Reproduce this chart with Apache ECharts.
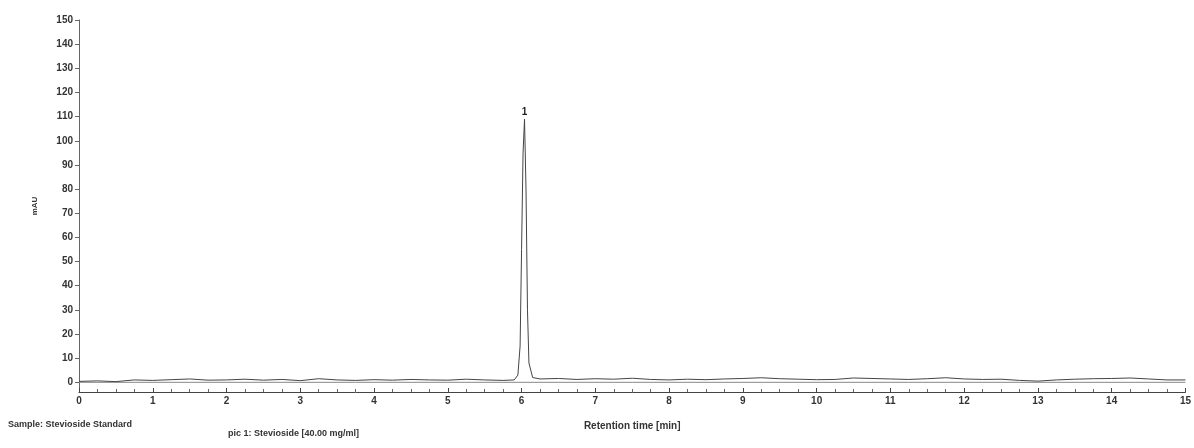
<!DOCTYPE html>
<html>
<head>
<meta charset="utf-8">
<script src="https://cdn.jsdelivr.net/npm/echarts@6/dist/echarts.min.js"></script>
<style>html,body{margin:0;padding:0;background:#fff}#c{width:1194px;height:448px}</style>
</head>
<body>
<div id="c"></div>
<script>
var times = [0,0.25,0.5,0.75,1,1.25,1.5,1.75,2,2.25,2.5,2.75,3,3.25,3.5,3.75,4,4.25,4.5,4.75,5,5.25,5.5,5.75,5.9,5.95,5.98,6.0,6.02,6.04,6.06,6.08,6.1,6.15,6.25,6.5,6.75,7,7.25,7.5,7.75,8,8.25,8.5,8.75,9,9.25,9.5,9.75,10,10.25,10.5,10.75,11,11.25,11.5,11.75,12,12.25,12.5,12.75,13,13.25,13.5,13.75,14,14.25,14.5,14.75,15];
var signal = [0.4,0.6,0.3,1.0,0.8,1.1,1.4,0.9,1.0,1.3,0.9,1.2,0.7,1.5,1.0,0.8,1.1,0.9,1.2,1.0,0.9,1.3,1.0,0.8,1.0,3,15,55,95,109,80,30,8,2.0,1.4,1.6,1.2,1.5,1.3,1.7,1.2,1.0,1.3,1.1,1.4,1.6,1.9,1.5,1.3,1.1,1.2,1.8,1.6,1.4,1.2,1.5,1.9,1.4,1.2,1.3,0.8,0.5,1.0,1.3,1.5,1.6,1.8,1.4,1.0,1.0];
var baseline = [[0,0],[15,0]];
var yTicks = [0,10,20,30,40,50,60,70,80,90,100,110,120,130,140,150];
var peakLabel = {name:'1', time:6.04, value:109};

var chart = echarts.init(document.getElementById('c'), null, {renderer:'canvas'});
var pts = times.map(function(t,i){return [t, signal[i]];});
var font = 'Liberation Sans';
chart.setOption({
  animation:false,
  grid:{left:79, right:5, top:20, bottom:56},
  xAxis:{
    type:'value', min:0, max:15, interval:1,
    axisLine:{show:true, onZero:false, lineStyle:{color:'#444', width:1}},
    axisTick:{show:true, length:-4, lineStyle:{color:'#444'}},
    minorTick:{show:true, splitNumber:4, length:-3, lineStyle:{color:'#666'}},
    splitLine:{show:false},
    axisLabel:{color:'#333', fontSize:10, fontWeight:'bold', fontFamily:font, margin:4},
    name:'Retention time [min]', nameLocation:'middle', nameGap:29,
    nameTextStyle:{color:'#333', fontSize:10, fontWeight:'bold', fontFamily:font}
  },
  yAxis:{
    type:'value', min:-4, max:150,
    axisLine:{show:true, lineStyle:{color:'#666', width:1}},
    axisTick:{show:true, length:4, customValues:yTicks, lineStyle:{color:'#666'}},
    axisLabel:{color:'#333', fontSize:10, fontWeight:'bold', fontFamily:font, margin:6, customValues:yTicks},
    splitLine:{show:false},
    name:'mAU', nameLocation:'middle', nameGap:40, nameRotate:90,
    nameTextStyle:{color:'#333', fontSize:8, fontWeight:'bold', fontFamily:font}
  },
  series:[
    {type:'line', data:baseline, symbol:'none', silent:true, lineStyle:{color:'#888', width:1}},
    {type:'line', data:pts, symbol:'none', smooth:false, lineStyle:{color:'#444', width:1},
     markPoint:{symbol:'circle', symbolSize:0, silent:true,
       data:[{coord:[peakLabel.time, peakLabel.value], value:peakLabel.name,
         label:{show:true, position:'top', distance:2, formatter:peakLabel.name, color:'#222', fontSize:10, fontWeight:'bold', fontFamily:font}}]}}
  ],
  graphic:[
    {type:'text', left:8, top:420, style:{text:'Sample: Stevioside Standard', fill:'#333', font:'bold 9px '+font}},
    {type:'text', left:228, top:429, style:{text:'pic 1: Stevioside [40.00 mg/ml]', fill:'#333', font:'bold 9px '+font}}
  ]
});
</script>
</body>
</html>
